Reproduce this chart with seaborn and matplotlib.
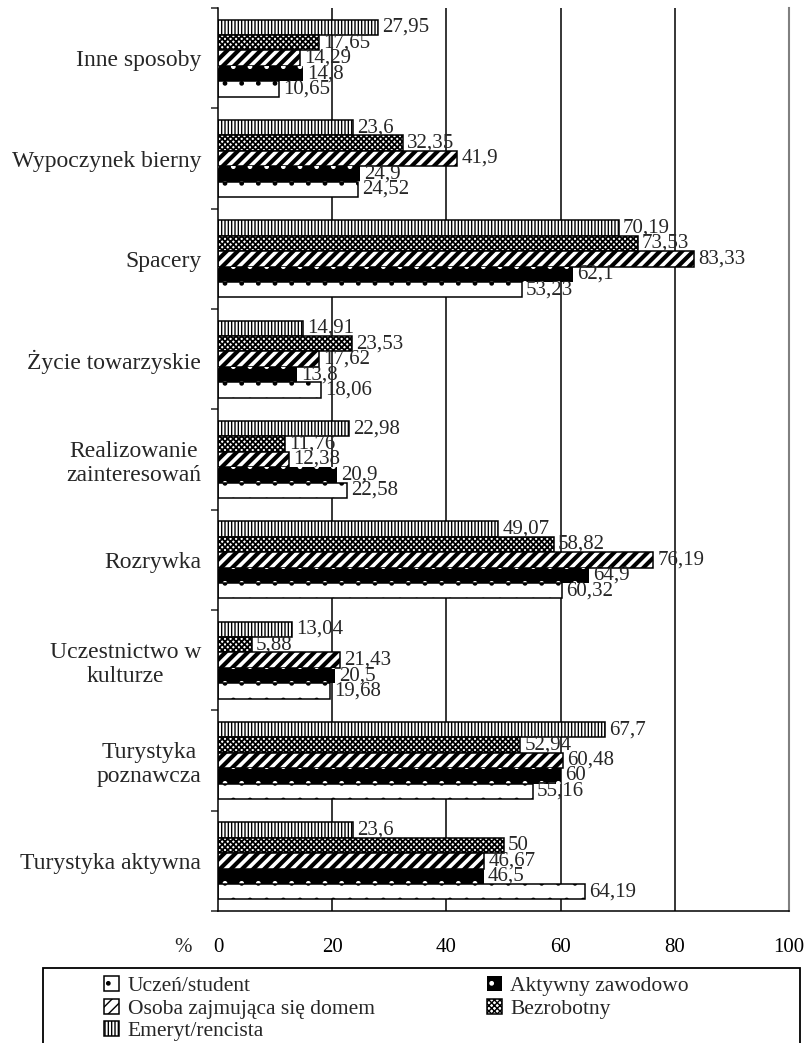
import numpy as np
import pandas as pd
import matplotlib.pyplot as plt
import seaborn as sns
from matplotlib.patches import Patch, Rectangle

# categories (top to bottom as drawn)
categories = ['Inne sposoby', 'Wypoczynek bierny', 'Spacery', 'Życie towarzyskie',
              'Realizowanie\nzainteresowań', 'Rozrywka', 'Uczestnictwo w\nkulturze',
              'Turystyka\npoznawcza', 'Turystyka aktywna']

# series values, same order as categories
uczen = [10.65, 24.52, 53.23, 18.06, 22.58, 60.32, 19.68, 55.16, 64.19]
aktywny = [14.8, 24.9, 62.1, 13.8, 20.9, 64.9, 20.5, 60, 46.5]
osoba = [14.29, 41.9, 83.33, 17.62, 12.38, 76.19, 21.43, 60.48, 46.67]
bezrobotny = [17.65, 32.35, 73.53, 23.53, 11.76, 58.82, 5.88, 52.94, 50]
emeryt = [27.95, 23.6, 70.19, 14.91, 22.98, 49.07, 13.04, 67.7, 23.6]

groups = ['Uczeń/student', 'Aktywny zawodowo', 'Osoba zajmująca się domem',
          'Bezrobotny', 'Emeryt/rencista']
xticks = [0, 20, 40, 60, 80, 100]

series = dict(zip(groups, [uczen, aktywny, osoba, bezrobotny, emeryt]))
rows = []
for g, vals in series.items():
    for c, v in zip(categories, vals):
        rows.append({'cat': c, 'grp': g, 'val': v})
df = pd.DataFrame(rows)

# face, edge(hatch colour), hatch, outline width, hatch width
styles = {
    'Uczeń/student': ('white', 'black', '.', 1.1, 1.0),
    'Aktywny zawodowo': ('black', 'white', '.', 0, 1.0),
    'Osoba zajmująca się domem': ('white', 'black', '///', 1.1, 3.0),
    'Bezrobotny': ('white', 'black', 'xxxxxx', 1.1, 1.3),
    'Emeryt/rencista': ('white', 'black', '|||||', 1.1, 1.0),
}

sns.set_style('white')
plt.rcParams['font.family'] = ['Liberation Serif', 'DejaVu Serif']
plt.rcParams['hatch.linewidth'] = 1.0

fig = plt.figure(figsize=(8.08, 10.43), dpi=100)
ax = fig.add_axes([218 / 808, 1 - 911 / 1043, (789 - 218) / 808, (911 - 8) / 1043])

hue_order = groups[::-1]  # top bar in each group is Emeryt
sns.barplot(data=df, x='val', y='cat', hue='grp', order=categories, hue_order=hue_order,
            orient='h', width=0.77, saturation=1, legend=False, errorbar=None, ax=ax)

for g, cont in zip(hue_order, ax.containers):
    face, edge, hatch, lw, hlw = styles[g]
    for p in cont:
        p.set_facecolor(face)
        p.set_edgecolor(edge)
        p.set_hatch(hatch)
        p.set_linewidth(lw)
        if hasattr(p, 'set_hatch_linewidth'):
            p.set_hatch_linewidth(hlw)
    labels = [f'{v:g}'.replace('.', ',') for v in cont.datavalues]
    ax.bar_label(cont, labels=labels, padding=3, fontsize=15)

for x in [20, 40, 60, 80]:
    ax.axvline(x, color='black', lw=1.1, zorder=0.5)

ax.set_xlim(0, 100)
ax.set_xticks(xticks)
ax.set_yticks(np.arange(-0.5, len(categories), 1), minor=True)
ax.set_xlabel('')
ax.set_ylabel('')
ax.tick_params(axis='x', direction='inout', length=13, width=1.1, pad=13, labelsize=15, colors='black')
ax.tick_params(axis='y', which='major', length=0, pad=12, labelsize=17)
ax.tick_params(axis='y', which='minor', direction='out', length=5, width=1.1, left=True)
for t in ax.get_yticklabels():
    t.set_multialignment('center')

ax.spines['top'].set_visible(False)
ax.spines['left'].set_color('black')
ax.spines['left'].set_linewidth(1.1)
ax.spines['bottom'].set_color('black')
ax.spines['bottom'].set_linewidth(1.1)
ax.spines['right'].set_color('#808080')
ax.spines['right'].set_linewidth(1.5)

fig.text(183 / 808, 1 - 948 / 1043, '%', fontsize=15, ha='center', va='center')

# legend, box runs off the bottom of the figure
handles = []
for g in groups:
    face, edge, hatch, lw, hlw = styles[g]
    handles.append(Patch(facecolor=face, edgecolor=edge, hatch=hatch, linewidth=lw))
order = [0, 2, 4, 1, 3]
fig.legend([handles[i] for i in order], [groups[i] for i in order], ncol=2,
           loc='upper left', bbox_to_anchor=(104 / 808, 1 - 976 / 1043), frameon=False,
           fontsize=15.5, handlelength=0.7, handleheight=0.7, handletextpad=0.4,
           columnspacing=5.2, labelspacing=0.12, borderpad=0, borderaxespad=0)
fig.add_artist(Rectangle((43 / 808, -0.05), (800 - 43) / 808, (1043 - 968) / 1043 + 0.05,
                         transform=fig.transFigure, fill=False, edgecolor='black',
                         lw=1.3, clip_on=False))

fig.savefig('out.png', dpi=100)
